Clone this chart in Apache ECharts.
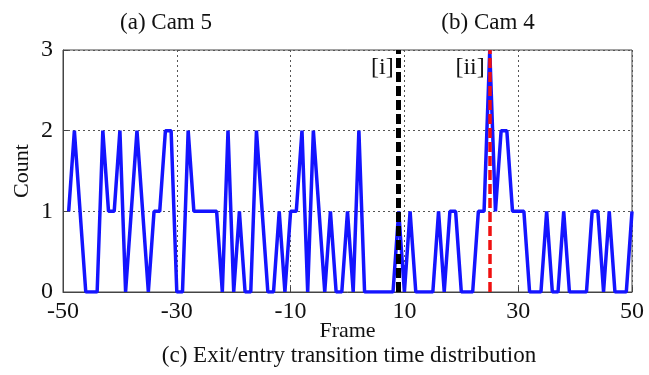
<!DOCTYPE html>
<html><head><meta charset="utf-8">
<script src="https://cdn.jsdelivr.net/npm/echarts@6/dist/echarts.min.js"></script>
<style>html,body{margin:0;padding:0;background:#fff}#c{width:649px;height:375px}</style>
</head><body><div id="c"></div>
<script>
var frames = [-49,-48,-47,-46,-45,-44,-43,-42,-41,-40,-39,-38,-37,-36,-35,-34,-33,-32,-31,-30,-29,-28,-27,-26,-25,-24,-23,-22,-21,-20,-19,-18,-17,-16,-15,-14,-13,-12,-11,-10,-9,-8,-7,-6,-5,-4,-3,-2,-1,0,1,2,3,4,5,6,7,8,9,10,11,12,13,14,15,16,17,18,19,20,21,22,23,24,25,26,27,28,29,30,31,32,33,34,35,36,37,38,39,40,41,42,43,44,45,46,47,48,49,50];
var counts = [1,2,1,0,0,0,2,1,1,2,0,1,2,1,0,1,1,2,2,0,0,2,1,1,1,1,1,0,2,0,1,0,0,2,1,0,0,1,0,1,1,2,0,2,1,0,1,0,0,1,0,2,0,0,0,0,0,0,1,0,1,0,0,0,0,1,0,1,1,0,0,0,1,1,3,1,2,2,1,1,1,0,0,0,1,0,0,1,0,0,0,0,1,1,0,1,0,0,0,1];
var xTicks = [-50,-30,-10,10,30,50];
var yTicks = [0,1,2,3];
var markerI = 9, markerII = 25;
var markerLabels = ['[i]','[ii]'];
var serif = 'Liberation Serif';
var chart = echarts.init(document.getElementById('c'));
chart.setOption({
  animation:false,
  backgroundColor:'#fff',
  title:[
    {text:'(a) Cam 5', left:161, top:6, textAlign:'center', textStyle:{fontFamily:serif,fontSize:23,fontWeight:'normal',color:'#111'}},
    {text:'(b) Cam 4', left:483, top:6, textAlign:'center', textStyle:{fontFamily:serif,fontSize:23,fontWeight:'normal',color:'#111'}},
    {text:'(c) Exit/entry transition time distribution', left:344, top:339, textAlign:'center', textStyle:{fontFamily:serif,fontSize:23,fontWeight:'normal',color:'#111'}}
  ],
  grid:{left:63,right:17,top:50,bottom:83,containLabel:false,outerBoundsMode:'none',show:true,borderColor:'#444',borderWidth:1,backgroundColor:'#fff'},
  xAxis:{type:'value',min:-50,max:50,interval:20,
    name:'Frame',nameLocation:'middle',nameGap:28,nameMoveOverlap:false,nameTextStyle:{fontFamily:serif,fontSize:22,color:'#111'},
    axisLine:{show:true,onZero:false,lineStyle:{color:'#444'}},
    axisTick:{show:true,inside:true,length:5,lineStyle:{color:'#444'}},
    axisLabel:{fontFamily:serif,fontSize:24,color:'#111',margin:8},
    splitLine:{show:true,lineStyle:{color:'#555',type:[2,3],width:1}}},
  yAxis:{type:'value',min:0,max:3,interval:1,
    name:'Count',nameLocation:'middle',nameGap:30,nameMoveOverlap:false,nameRotate:90,nameTextStyle:{fontFamily:serif,fontSize:22,color:'#111'},
    axisLine:{show:true,onZero:false,lineStyle:{color:'#444'}},
    axisTick:{show:true,inside:true,length:5,lineStyle:{color:'#444'}},
    axisLabel:{fontFamily:serif,fontSize:24,color:'#111',margin:10},
    splitLine:{show:true,lineStyle:{color:'#555',type:[2,3],width:1}}},
  series:[
    {type:'line',data:frames.map(function(f,i){return [f,counts[i]];}),
     showSymbol:false,lineStyle:{color:'#1414ff',width:3.5},itemStyle:{color:'#1414ff'},z:2,
     markLine:{silent:true,symbol:'none',label:{show:false},animation:false,
       data:[
         {xAxis:markerI,lineStyle:{color:'#000',width:5,type:[10,4]}},
         {xAxis:markerII,lineStyle:{color:'#f01010',width:3.5,type:[10,4]}}
       ]}},
    {type:'scatter',symbolSize:0,data:[[markerI,2.78],[markerII,2.78]],z:5,silent:true,
     itemStyle:{opacity:1},
     label:{show:true,position:'left',distance:5,fontFamily:serif,fontSize:24,color:'#111',opacity:1,
       formatter:function(p){return markerLabels[p.dataIndex];}}}
  ]
});
</script></body></html>
